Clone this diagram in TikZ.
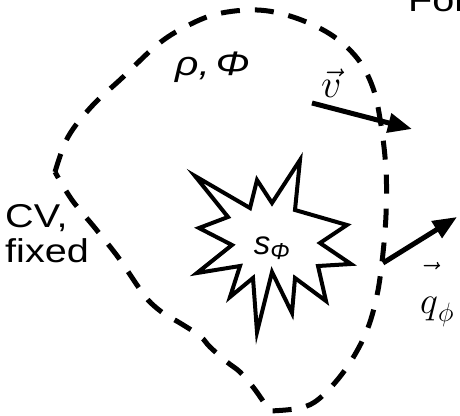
\RequirePackage{fix-cm}
\documentclass[tikz,border=0pt]{standalone}
\usepackage{fontspec}
\setmainfont[FakeStretch=1.2]{Liberation Sans}
\newfontfamily\srcfont{Liberation Sans}
\usetikzlibrary{arrows.meta}

\begin{document}
\begin{tikzpicture}[x=1pt, y=-1pt,
        txt/.style={font=\fontsize{33}{35}\selectfont, align=left, inner sep=0pt},
        cvline/.style={line width=5pt, dash pattern=on 19pt off 15pt, line join=round},
        burst/.style={line width=4pt, line join=miter, fill=white},
        arrow/.style={-{Triangle[length=24pt, width=19pt]}, line width=5pt}
    ]
    \useasboundingbox (0,0) rectangle (460,415);
    \clip (0,0) rectangle (460,415);

    % Control volume boundary
    \draw[cvline] plot[smooth, tension=0.6] coordinates {(55,172) (68,137) (92,106) (122,78) (157,45) (185,27) (217,14) (257,10) (293,17) (330,34) (357,58) (373,88) (381,125) (386,170) (386,215) (382,262) (376,300) (365,335) (345,370) (320,398) (300,408) (270,411)}
        -- plot[smooth, tension=0.6] coordinates {(270,411) (263,401) (253,387) (240,372) (227,362) (210,347) (200,336) (180,323) (163,313) (148,300) (137,285) (118,257) (95,228) (72,200) (55,172)} -- cycle;

    % Source burst
    \draw[burst] (195,176) -- (250,208) -- (257,180) -- (272,203) -- (300,160) -- (295,210) -- (347,225) -- (320,243) -- (351,264) -- (318,266) -- (326,301) -- (295,278) -- (292,313) -- (272,272) -- (257,332) -- (253,278) -- (230,297) -- (240,266) -- (197,273) -- (232,245) -- (199,228) -- (228,217) -- cycle;

    % Nodes
    \node[txt, anchor=north west] (cv) at (5,204) {CV,\\fixed};
    \node[txt, anchor=base west, font=\fontsize{34}{36}\selectfont\itshape] (rho) at (175,75) {ρ,\,Φ};
    \node[txt, anchor=base west] (for) at (408,12) {For};
    \node[txt, font=\fontsize{33}{35}\selectfont\srcfont\itshape] (src) at (272,248) {s\textsubscript{Φ}};
    \node[inner sep=0pt, anchor=base west, font=\fontsize{40}{40}\selectfont] (vlab) at (321,97) {$\vec{v}$};
    \node[inner sep=0pt, anchor=base west, font=\fontsize{38}{38}\selectfont] (qlab) at (420,313) {$\vec{\rule{0pt}{1.05em}q}_{\phi}$};

    \coordinate (vtail) at (312,103);
    \coordinate (vtip) at (412,129);
    \coordinate (qtail) at (383,263);
    \coordinate (qtip) at (457,217);

    % Connections
    \draw[arrow] (vtail) -- (vtip);
    \draw[arrow] (qtail) -- (qtip);

\end{tikzpicture}
\end{document}
